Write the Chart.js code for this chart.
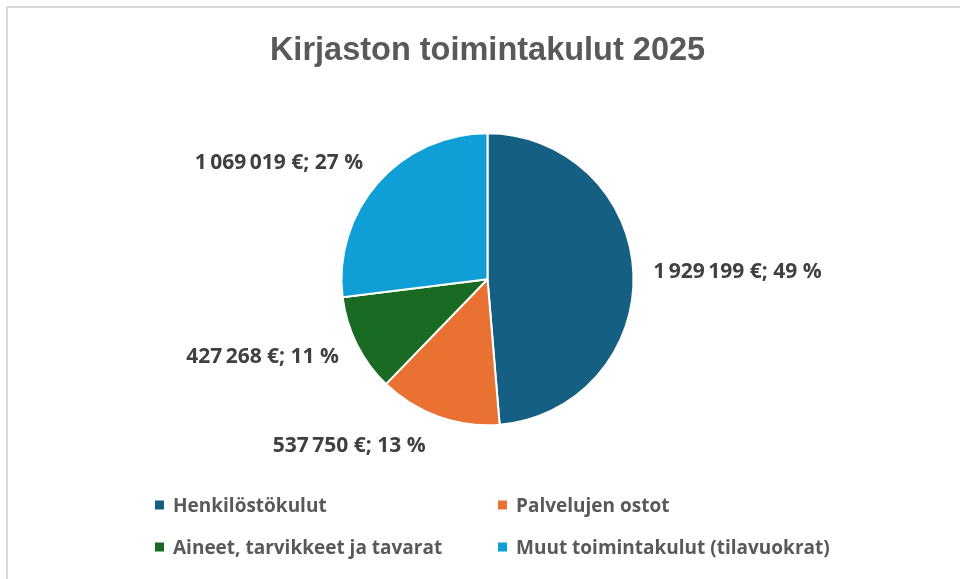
<!DOCTYPE html>
<html>
<head>
<meta charset="utf-8">
<script src="https://cdn.jsdelivr.net/npm/chart.js@4/dist/chart.umd.min.js"></script>
<style>
  html, body { margin: 0; padding: 0; background: #ffffff; overflow: hidden; width: 960px; height: 579px; }
  #frame { position: absolute; left: 6px; top: 6px; width: 1000px; height: 1000px; border: 2px solid #d9d9d9; box-sizing: border-box; }
  #c { position: absolute; left: 0; top: 0; }
</style>
</head>
<body>
<div id="frame"></div>
<canvas id="c" width="960" height="579"></canvas>
<script>
// ---- data ----
const title = 'Kirjaston toimintakulut 2025';
const categories = ['Henkilöstökulut', 'Palvelujen ostot', 'Aineet, tarvikkeet ja tavarat', 'Muut toimintakulut (tilavuokrat)'];
const values = [1929199, 537750, 427268, 1069019];
const percentLabels = [49, 13, 11, 27];
const colors = ['#156082', '#E97132', '#196B24', '#0F9ED5'];

const LABEL_FONT = 'bold 21px "Open Sans", "Liberation Sans", sans-serif';
const LEGEND_FONT = 'bold 19px "Open Sans", "Liberation Sans", sans-serif';

function fmtNumber(v) {
  const s = String(Math.round(v));
  let out = '';
  for (let i = 0; i < s.length; i++) {
    if (i > 0 && (s.length - i) % 3 === 0) out += '\u2009';
    out += s[i];
  }
  return out;
}

const dataLabelPlugin = {
  id: 'outerLabels',
  afterDatasetsDraw(chart) {
    const ctx = chart.ctx;
    const meta = chart.getDatasetMeta(0);
    ctx.save();
    ctx.font = LABEL_FONT;
    ctx.fillStyle = '#404040';
    meta.data.forEach((arc, i) => {
      const p = arc.getProps(['x', 'y', 'startAngle', 'endAngle', 'outerRadius'], true);
      const mid = (p.startAngle + p.endAngle) / 2;
      const ux = Math.cos(mid), uy = Math.sin(mid);
      const r = p.outerRadius + 20;
      const px = p.x + ux * r, py = p.y + uy * r;
      const text = fmtNumber(values[i]) + '\u00A0€; ' + percentLabels[i] + '\u00A0%';
      ctx.textAlign = ux >= 0 ? 'left' : 'right';
      ctx.textBaseline = uy > 0.5 ? 'top' : (uy < -0.5 ? 'bottom' : 'middle');
      let dy = 0;
      if (uy > 0.3 && uy <= 0.5) dy = 4;
      if (uy < -0.5) dy = 4;
      ctx.fillText(text, px - (uy > 0.5 ? 6 : 0), py + dy);
    });
    ctx.restore();
  }
};

const gridLegendPlugin = {
  id: 'gridLegend',
  afterDraw(chart) {
    const ctx = chart.ctx;
    const colX = [155, 498];
    const rowY = [505, 547];
    ctx.save();
    ctx.font = LEGEND_FONT;
    ctx.textBaseline = 'middle';
    ctx.textAlign = 'left';
    categories.forEach((name, i) => {
      const x = colX[i % 2], y = rowY[Math.floor(i / 2)];
      ctx.fillStyle = colors[i];
      ctx.fillRect(x, y - 4.5, 9, 9);
      ctx.fillStyle = '#595959';
      ctx.fillText(name, x + 18, y + 2);
    });
    ctx.restore();
  }
};

new Chart(document.getElementById('c'), {
  type: 'pie',
  data: {
    labels: categories,
    datasets: [{
      data: values,
      backgroundColor: colors,
      borderColor: '#ffffff',
      borderWidth: 2
    }]
  },
  options: {
    responsive: false,
    animation: false,
    radius: 146,
    layout: { padding: { left: 15, right: 0, top: 0, bottom: 102 } },
    plugins: {
      legend: { display: false },
      tooltip: { enabled: false },
      title: {
        display: true,
        text: title,
        color: '#595959',
        font: { family: '"Liberation Sans", Arial, sans-serif', size: 32.5, weight: 'bold' },
        padding: { top: 32, bottom: 10.4 }
      }
    }
  },
  plugins: [dataLabelPlugin, gridLegendPlugin]
});
</script>
</body>
</html>
